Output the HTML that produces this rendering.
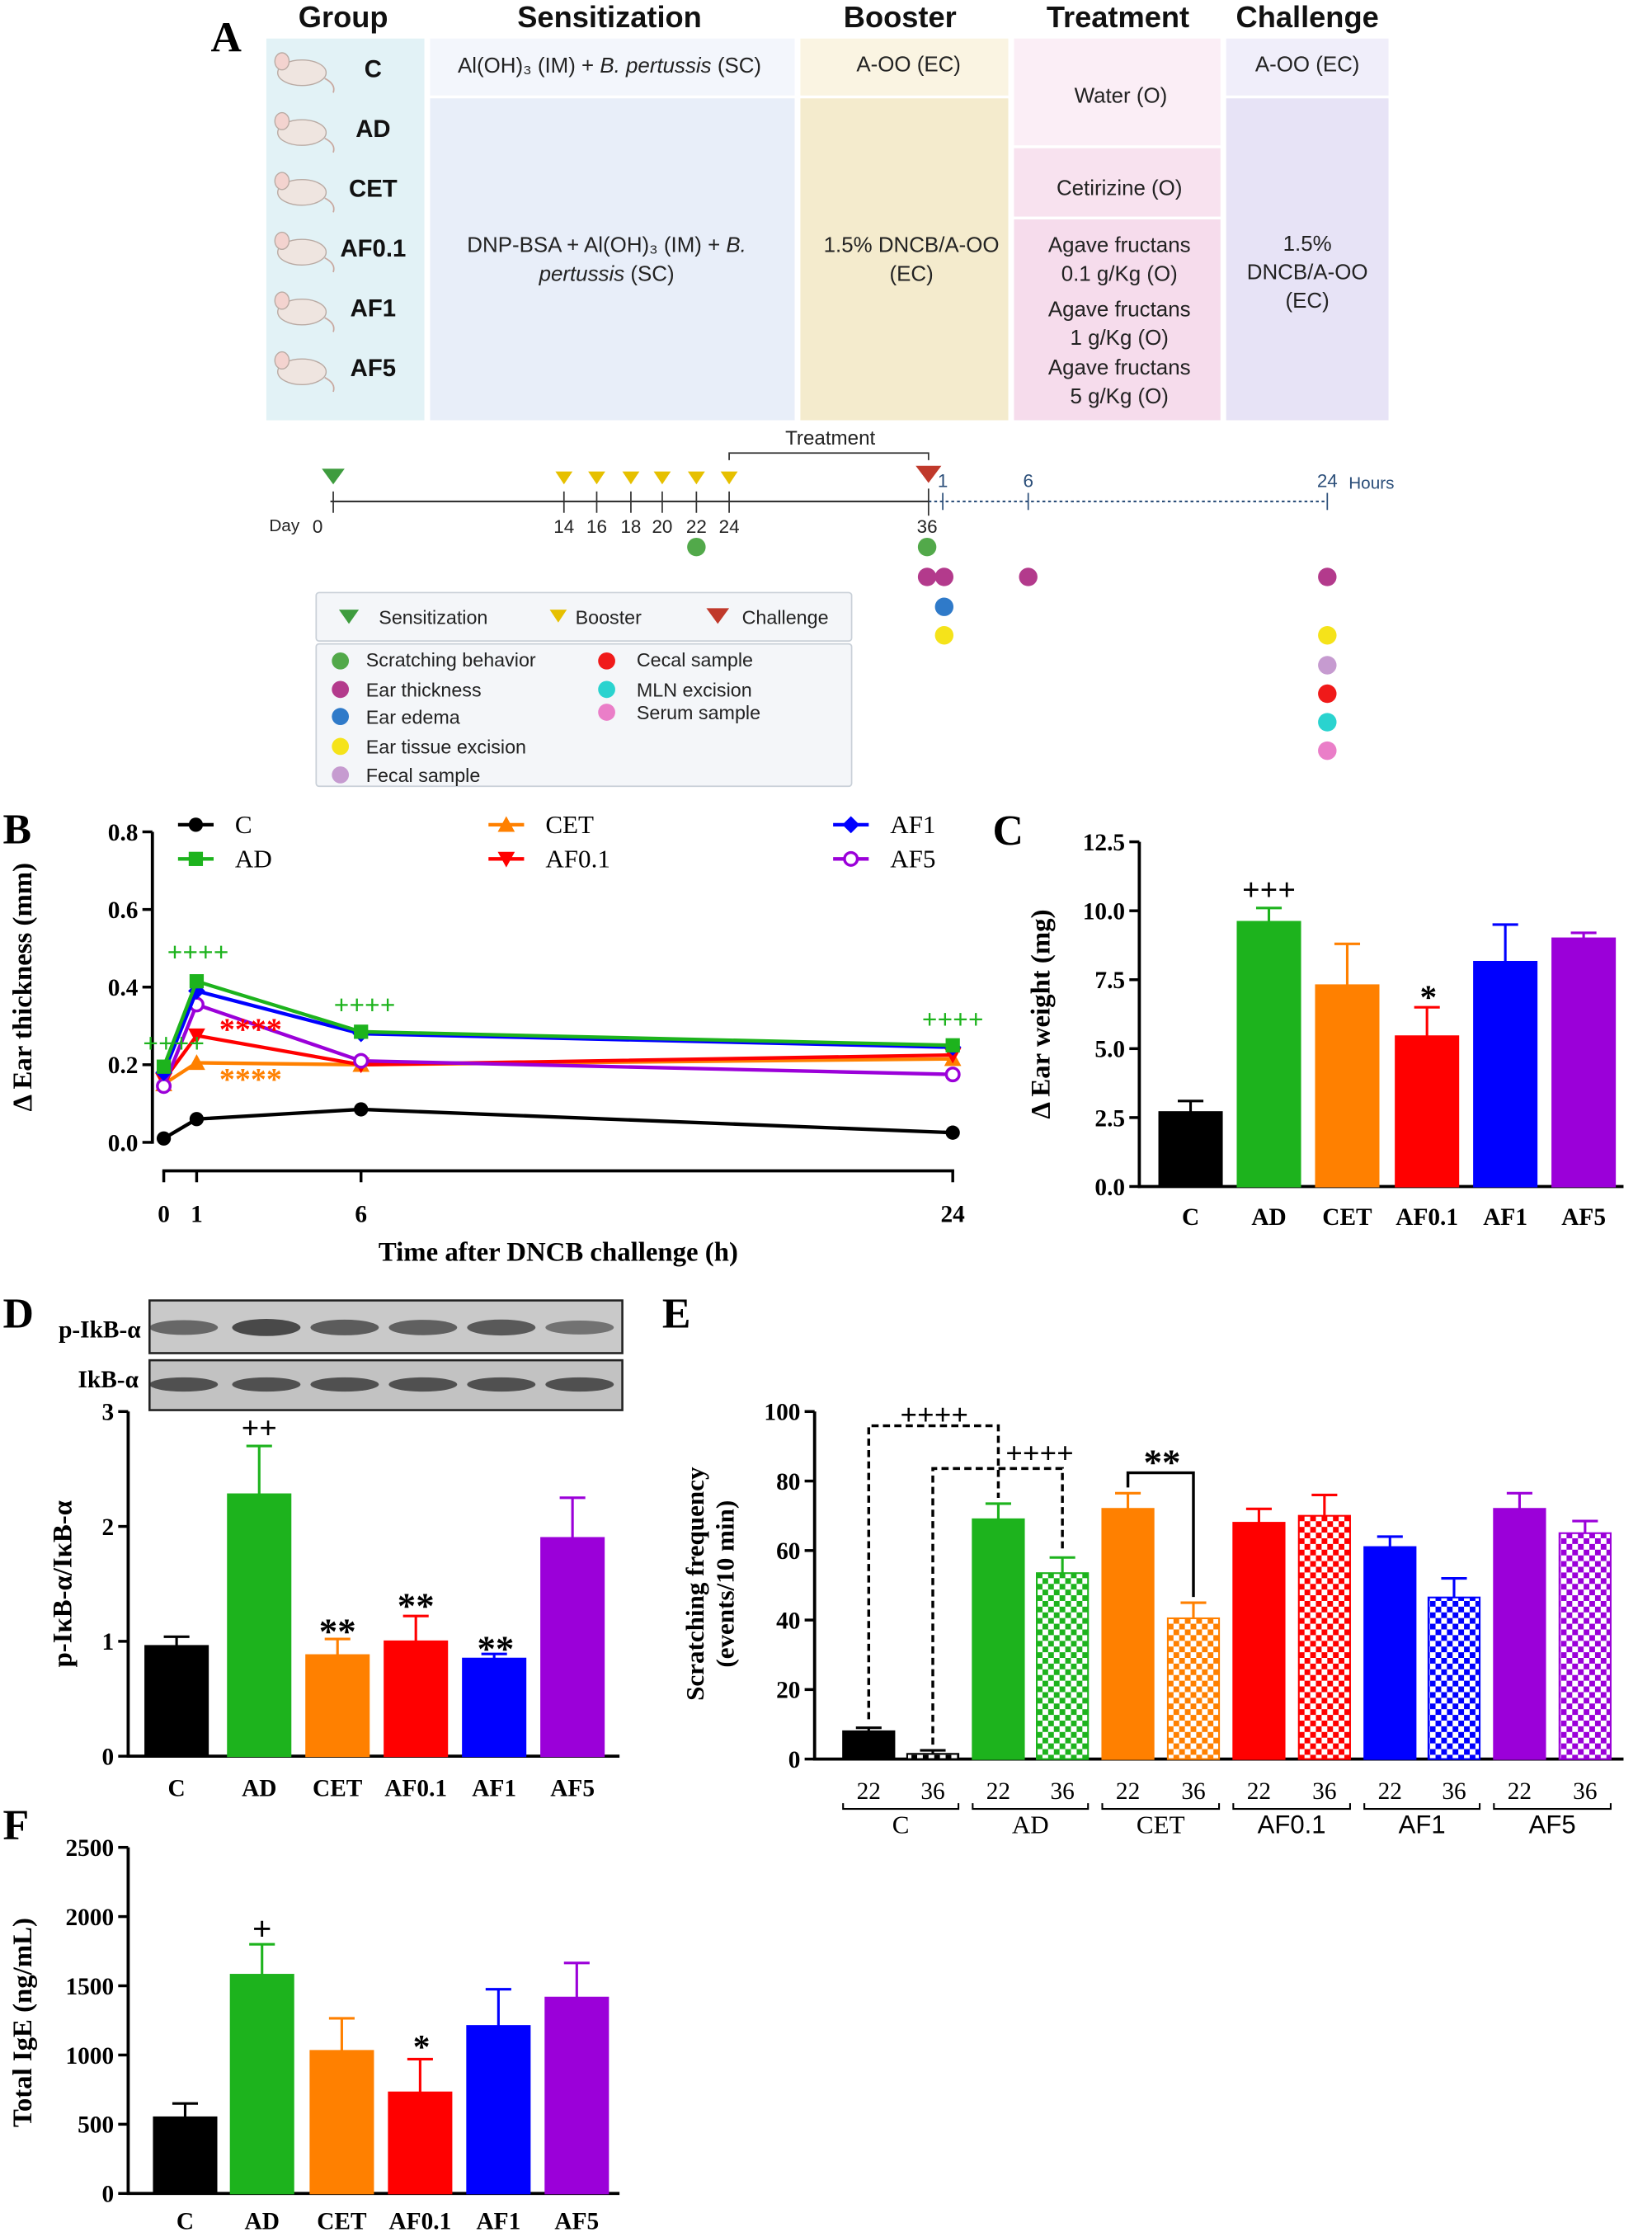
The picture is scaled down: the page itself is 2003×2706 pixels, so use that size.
<!DOCTYPE html>
<html><head><meta charset="utf-8">
<style>
html,body{margin:0;padding:0;background:#fff;}
svg{display:block;}
.sans{font-family:"Liberation Sans","DejaVu Sans",sans-serif;}
.serif{font-family:"Liberation Serif","DejaVu Serif",serif;font-weight:bold;}
</style></head>
<body>
<svg id="fig" width="2003" height="2706" viewBox="0 0 1160 1567" xmlns="http://www.w3.org/2000/svg">
<defs>
<pattern id="chk-green" width="8" height="8" patternUnits="userSpaceOnUse"><rect width="8" height="8" fill="#fff"/><rect width="4" height="4" fill="#1db31d"/><rect x="4" y="4" width="4" height="4" fill="#1db31d"/></pattern>
<pattern id="chk-black" width="8" height="8" patternUnits="userSpaceOnUse"><rect width="8" height="8" fill="#fff"/><rect width="4" height="4" fill="#000"/><rect x="4" y="4" width="4" height="4" fill="#000"/></pattern>
<pattern id="chk-orange" width="8" height="8" patternUnits="userSpaceOnUse"><rect width="8" height="8" fill="#fff"/><rect width="4" height="4" fill="#ff8000"/><rect x="4" y="4" width="4" height="4" fill="#ff8000"/></pattern>
<pattern id="chk-red" width="8" height="8" patternUnits="userSpaceOnUse"><rect width="8" height="8" fill="#fff"/><rect width="4" height="4" fill="#ff0000"/><rect x="4" y="4" width="4" height="4" fill="#ff0000"/></pattern>
<pattern id="chk-blue" width="8" height="8" patternUnits="userSpaceOnUse"><rect width="8" height="8" fill="#fff"/><rect width="4" height="4" fill="#0000ff"/><rect x="4" y="4" width="4" height="4" fill="#0000ff"/></pattern>
<pattern id="chk-purple" width="8" height="8" patternUnits="userSpaceOnUse"><rect width="8" height="8" fill="#fff"/><rect width="4" height="4" fill="#9b00d9"/><rect x="4" y="4" width="4" height="4" fill="#9b00d9"/></pattern>
</defs>

<!-- PANEL A -->
<g class="sans">
<text x="148" y="36" class="serif" font-size="30">A</text>
<rect x="187" y="27" width="111" height="268" fill="#e2f2f6"/>
<rect x="302" y="27" width="256" height="40" fill="#f3f6fc"/>
<rect x="302" y="69" width="256" height="226" fill="#e8eef9"/>
<rect x="562" y="27" width="146" height="40" fill="#faf4e2"/>
<rect x="562" y="69" width="146" height="226" fill="#f4ebcd"/>
<rect x="712" y="27" width="145" height="75" fill="#fbeef6"/>
<rect x="712" y="104" width="145" height="48" fill="#f8e2ef"/>
<rect x="712" y="154" width="145" height="141" fill="#f6dcec"/>
<rect x="861" y="27" width="114" height="40" fill="#f0eefa"/>
<rect x="861" y="69" width="114" height="226" fill="#e7e3f6"/>
<g font-size="21" font-weight="bold" text-anchor="middle" fill="#111">
<text x="241" y="19">Group</text>
<text x="428" y="19">Sensitization</text>
<text x="632" y="19">Booster</text>
<text x="785" y="19">Treatment</text>
<text x="918" y="19">Challenge</text>
</g>
<g id="mice"></g>
<g font-size="15" fill="#222" text-anchor="middle">
<text x="428" y="51">Al(OH)₃ (IM) + <tspan font-style="italic">B. pertussis</tspan> (SC)</text>
<text x="426" y="177">DNP-BSA + Al(OH)₃ (IM) + <tspan font-style="italic">B.</tspan></text>
<text x="426" y="197" font-style="italic">pertussis <tspan font-style="normal">(SC)</tspan></text>
<text x="638" y="50">A-OO (EC)</text>
<text x="640" y="177">1.5% DNCB/A-OO</text>
<text x="640" y="197">(EC)</text>
<text x="787" y="72">Water (O)</text>
<text x="786" y="137">Cetirizine (O)</text>
<text x="786" y="177">Agave fructans</text>
<text x="786" y="197">0.1 g/Kg (O)</text>
<text x="786" y="222">Agave fructans</text>
<text x="786" y="242">1 g/Kg (O)</text>
<text x="786" y="263">Agave fructans</text>
<text x="786" y="283">5 g/Kg (O)</text>
<text x="918" y="50">A-OO (EC)</text>
<text x="918" y="176">1.5%</text>
<text x="918" y="196">DNCB/A-OO</text>
<text x="918" y="216">(EC)</text>
</g>
<!-- timeline -->
<line x1="232" y1="352" x2="652" y2="352" stroke="#333" stroke-width="1.2"/>
<line x1="652" y1="352" x2="932" y2="352" stroke="#2c4f7a" stroke-width="1.2" stroke-dasharray="2,2"/>
<path d="M512 323 V318 H652 V323" fill="none" stroke="#333"/>
<text x="583" y="312" font-size="14" text-anchor="middle" fill="#222">Treatment</text>
<g id="timeline"></g>
<!-- legends -->
<rect x="222" y="416" width="376" height="34" fill="#f4f6f9" stroke="#c9d0d8" rx="2"/>
<rect x="222" y="452" width="376" height="100" fill="#f4f6f9" stroke="#c9d0d8" rx="2"/>
<g font-size="13.5" fill="#222">
<path d="M238 428 h14 l-7 10 z" fill="#3e9c3e"/><text x="266" y="438">Sensitization</text>
<path d="M386 428 h12 l-6 9 z" fill="#e6c000"/><text x="404" y="438">Booster</text>
<path d="M496 427 h16 l-8 11 z" fill="#c0392b"/><text x="521" y="438">Challenge</text>
<circle cx="239" cy="464" r="6" fill="#52a94a"/><text x="257" y="468">Scratching behavior</text>
<circle cx="239" cy="484" r="6" fill="#b33a8c"/><text x="257" y="489">Ear thickness</text>
<circle cx="239" cy="503" r="6" fill="#2f7ac9"/><text x="257" y="508">Ear edema</text>
<circle cx="239" cy="524" r="6" fill="#f5e31a"/><text x="257" y="529">Ear tissue excision</text>
<circle cx="239" cy="544" r="6" fill="#c69bd0"/><text x="257" y="549">Fecal sample</text>
<circle cx="426" cy="464" r="6" fill="#f01a1a"/><text x="447" y="468">Cecal sample</text>
<circle cx="426" cy="484" r="6" fill="#2ad3cf"/><text x="447" y="489">MLN excision</text>
<circle cx="426" cy="500" r="6" fill="#ea7ec8"/><text x="447" y="505">Serum sample</text>
</g>
</g>

<g class="serif" font-size="30">
<text x="2" y="592">B</text>
<text x="697" y="593">C</text>
<text x="2" y="932">D</text>
<text x="465" y="932">E</text>
<text x="2" y="1291">F</text>
</g>
<g id="panelB"></g>
<g id="panelC"></g>
<g id="panelD"></g>
<g id="panelE"></g>
<g id="panelF"></g>
</svg>

<script>
// ---------- data ----------
const bTimes = [0, 1, 6, 24];
const bTickLabels = ["0.0", "0.2", "0.4", "0.6", "0.8"];
const bC = [0.01, 0.06, 0.085, 0.025];
const bAD = [0.195, 0.415, 0.285, 0.25];
const bCET = [0.15, 0.205, 0.2, 0.215];
const bAF01 = [0.16, 0.275, 0.2, 0.225];
const bAF1 = [0.18, 0.39, 0.28, 0.245];
const bAF5 = [0.145, 0.355, 0.21, 0.175];

const groups = ["C", "AD", "CET", "AF0.1", "AF1", "AF5"];
const cValues = [2.7, 9.6, 7.3, 5.45, 8.15, 9.0];
const cErrTop = [3.1, 10.1, 8.8, 6.5, 9.5, 9.2];
const cTickLabels = ["0.0", "2.5", "5.0", "7.5", "10.0", "12.5"];

const dValues = [0.96, 2.28, 0.88, 1.0, 0.85, 1.9];
const dErrTop = [1.04, 2.7, 1.02, 1.22, 0.89, 2.25];
const dTickLabels = ["0", "1", "2", "3"];

const eDays = ["22", "36"];
const eDay22 = [8, 69, 72, 68, 61, 72];
const eDay36 = [1.5, 53.5, 40.5, 70, 46.5, 65];
const eErr22 = [9, 73.5, 76.5, 72, 64, 76.5];
const eErr36 = [2.5, 58, 45, 76, 52, 68.5];
const eTickLabels = ["0", "20", "40", "60", "80", "100"];

const fValues = [550, 1580, 1030, 730, 1210, 1415];
const fErrTop = [650, 1800, 1265, 970, 1475, 1665];
const fTickLabels = ["0", "500", "1000", "1500", "2000", "2500"];

const colors = ["#000000", "#1db31d", "#ff8000", "#ff0000", "#0000ff", "#9b00d9"];
const chk = ["chk-black","chk-green","chk-orange","chk-red","chk-blue","chk-purple"];

const NS = "http://www.w3.org/2000/svg";
function mk(tag, attrs, parent, text) {
  const e = document.createElementNS(NS, tag);
  for (const k in attrs) e.setAttribute(k, attrs[k]);
  if (text !== undefined) e.textContent = text;
  parent.appendChild(e);
  return e;
}
function lin(d0, d1, r0, r1) { return v => r0 + (v - d0) * (r1 - r0) / (d1 - d0); }

// ---------- mice ----------
(function () {
  const g = document.getElementById('mice');
  const rows = [47, 89, 131, 173, 215, 257];
  rows.forEach((y, i) => {
    const m = mk('g', {}, g);
    
    
    mk('ellipse', {cx: 212, cy: y + 4, rx: 17, ry: 9, fill: '#efe5e0', stroke: '#b9aaa3', 'stroke-width': 0.8}, m);
    mk('ellipse', {cx: 198, cy: y - 4, rx: 5, ry: 6, fill: '#f3d3cf', stroke: '#b9aaa3', 'stroke-width': 0.8}, m);
    mk('path', {d: `M228 ${y+8} q8 4 6 10`, fill: 'none', stroke: '#c9a9a0', 'stroke-width': 1}, m);
    const t = mk('text', {x: 262, y: y + 7, 'font-size': 17, 'font-weight': 'bold', 'text-anchor': 'middle', fill: '#111'}, g, groups[i]);
    
    
  });
})();

// ---------- timeline ----------
(function () {
  const g = document.getElementById('timeline');
  const yel = [396, 419, 443, 465, 489, 512];
  const dayLabels = ["14", "16", "18", "20", "22", "24"];
  let t = mk('path', {d: 'M226 329 h16 l-8 11 z', fill: '#3e9c3e'}, g);
   
  mk('line', {x1: 234, y1: 345, x2: 234, y2: 360, stroke: '#333'}, g);
  yel.forEach((x, i) => {
    const p = mk('path', {d: `M${x-6} 331 h12 l-6 9 z`, fill: '#e6c000'}, g);
     
    mk('line', {x1: x, y1: 345, x2: x, y2: 360, stroke: '#333'}, g);
    mk('text', {x: x, y: 374, 'font-size': 13, 'text-anchor': 'middle', fill: '#222'}, g, dayLabels[i]);
  });
  t = mk('path', {d: 'M643 327 h18 l-9 12 z', fill: '#c0392b'}, g);
   
  mk('line', {x1: 652, y1: 343, x2: 652, y2: 362, stroke: '#333'}, g);
  mk('text', {x: 189, y: 373, 'font-size': 12, fill: '#222'}, g, 'Day');
  mk('text', {x: 223, y: 374, 'font-size': 13, 'text-anchor': 'middle', fill: '#222'}, g, '0');
  mk('text', {x: 651, y: 374, 'font-size': 13, 'text-anchor': 'middle', fill: '#222'}, g, '36');
  [[662, '1'], [722, '6'], [932, '24']].forEach(([x, l]) => {
    mk('line', {x1: x, y1: 346, x2: x, y2: 358, stroke: '#2c4f7a'}, g);
    mk('text', {x: x, y: 342, 'font-size': 13, 'text-anchor': 'middle', fill: '#2c4f7a'}, g, l);
  });
  mk('text', {x: 947, y: 343, 'font-size': 12, fill: '#2c4f7a'}, g, 'Hours');
  const dots = [[489,384,'#52a94a'],[651,384,'#52a94a'],[651,405,'#b33a8c'],[663,405,'#b33a8c'],[722,405,'#b33a8c'],[932,405,'#b33a8c'],[663,426,'#2f7ac9'],[663,446,'#f5e31a'],[932,446,'#f5e31a'],[932,467,'#c69bd0'],[932,487,'#f01a1a'],[932,507,'#2ad3cf'],[932,527,'#ea7ec8']];
  dots.forEach(([x, y, c]) => {
    const d = mk('circle', {cx: x, cy: y, r: 6.5, fill: c}, g);
     
  });
})();

// ---------- generic axis ----------
function yAxis(g, x, y0, y1, labels, fs) {
  const ax = mk('line', {x1: x, y1: y0 + 1, x2: x, y2: y1, stroke: '#000', 'stroke-width': 2.2}, g);
   
  labels.forEach((l, i) => {
    const y = y0 + (y1 - y0) * i / (labels.length - 1);
    mk('line', {x1: x - 7, y1: y, x2: x, y2: y, stroke: '#000', 'stroke-width': 2}, g);
    const t = mk('text', {x: x - 10, y: y + 6, 'font-size': fs || 17, 'text-anchor': 'end', class: 'serif'}, g, l);
     
  });
}
function yTitle(g, x, y, lines, fs) {
  const t = mk('text', {transform: `translate(${x},${y}) rotate(-90)`, 'font-size': fs || 18, 'text-anchor': 'middle', class: 'serif'}, g);
   
  lines.forEach((l, i) => mk('tspan', {x: 0, dy: i === 0 ? 0 : 21}, t, l));
}
function txt(g, x, y, s, fs, fill, name) {
  const t = mk('text', {x: x, y: y, 'font-size': fs, 'text-anchor': 'middle', class: 'serif', fill: fill || '#000'}, g, s);
   
  return t;
}

// ---------- Panel B ----------
(function () {
  const g = document.getElementById('panelB');
  const X = lin(0, 24, 115, 669), Y = lin(0, 0.8, 802, 584);
  yAxis(g, 107, 802, 584, bTickLabels);
  yTitle(g, 22, 693, ["Δ Ear thickness (mm)"], 19);
  const xa = mk('line', {x1: 114, y1: 822, x2: 670, y2: 822, stroke: '#000', 'stroke-width': 2.2}, g);
   
  bTimes.forEach(t => {
    mk('line', {x1: X(t), y1: 822, x2: X(t), y2: 830, stroke: '#000', 'stroke-width': 2}, g);
    txt(g, X(t), 858, String(t), 17, '#000', 'x-tick-label');
  });
  txt(g, 392, 885, 'Time after DNCB challenge (h)', 19, '#000', 'x-axis-title');
  const series = [["C", bC, 0, 'circle'], ["CET", bCET, 2, 'tri'], ["AF0.1", bAF01, 3, 'tridown'], ["AF5", bAF5, 5, 'open'], ["AF1", bAF1, 4, 'diamond'], ["AD", bAD, 1, 'square']];
  function marker(p, x, y, type, c) {
    if (type === 'circle') mk('circle', {cx: x, cy: y, r: 5, fill: c}, p);
    else if (type === 'open') mk('circle', {cx: x, cy: y, r: 4.5, fill: '#fff', stroke: c, 'stroke-width': 2}, p);
    else if (type === 'square') mk('rect', {x: x - 5, y: y - 5, width: 10, height: 10, fill: c}, p);
    else if (type === 'tri') mk('path', {d: `M${x} ${y-6} L${x+6} ${y+5} L${x-6} ${y+5}z`, fill: c}, p);
    else if (type === 'tridown') mk('path', {d: `M${x} ${y+6} L${x+6} ${y-5} L${x-6} ${y-5}z`, fill: c}, p);
    else mk('path', {d: `M${x} ${y-6} L${x+6} ${y} L${x} ${y+6} L${x-6} ${y}z`, fill: c}, p);
  }
  series.forEach(([name, vals, ci, type]) => {
    const c = colors[ci];
    const s = mk('g', {}, g);
    
    
    mk('polyline', {points: vals.map((v, i) => X(bTimes[i]) + ',' + Y(v)).join(' '), fill: 'none', stroke: c, 'stroke-width': 2.5}, s);
    vals.forEach((v, i) => marker(s, X(bTimes[i]), Y(v), type, c));
  });
  // legend
  const leg = [["C", 0, 'circle', 125, 579], ["AD", 1, 'square', 125, 603], ["CET", 2, 'tri', 343, 579], ["AF0.1", 3, 'tridown', 343, 603], ["AF1", 4, 'diamond', 585, 579], ["AF5", 5, 'open', 585, 603]];
  leg.forEach(([n, ci, type, x, y]) => {
    const lg = mk('g', {}, g);
    
    
    mk('line', {x1: x, y1: y, x2: x + 25, y2: y, stroke: colors[ci], 'stroke-width': 2.5}, lg);
    marker(lg, x + 12.5, y, type, colors[ci]);
    const t = mk('text', {x: x + 40, y: y + 6, 'font-size': 18, class: 'serif', 'font-weight': 'normal'}, lg, n);
    t.style.fontWeight = 'normal';
  });
  txt(g, 122, 739, '++++', 19, '#1db31d');
  txt(g, 139, 675, '++++', 19, '#1db31d');
  txt(g, 256, 712, '++++', 19, '#1db31d');
  txt(g, 669, 722, '++++', 19, '#1db31d');
  txt(g, 176, 730, '****', 22, '#ff0000');
  txt(g, 176, 765, '****', 22, '#ff8000');
})();

// ---------- bar helper ----------
function bars(g, centers, vals, errs, Y, w, fills, base) {
  vals.forEach((v, i) => {
    const b = mk('g', {}, g);
    
    
    const c = colors[i % 6];
    mk('line', {x1: centers[i], y1: Y(v), x2: centers[i], y2: Y(errs[i]), stroke: c, 'stroke-width': 1.8}, b);
    mk('line', {x1: centers[i] - 9, y1: Y(errs[i]), x2: centers[i] + 9, y2: Y(errs[i]), stroke: c, 'stroke-width': 1.8}, b);
    mk('rect', {x: centers[i] - w / 2, y: Y(v), width: w, height: base - Y(v), fill: fills[i], stroke: c, 'stroke-width': 1.2}, b);
  });
}
function xLabels(g, centers, y, fs) {
  centers.forEach((x, i) => txt(g, x, y, groups[i], fs || 17, '#000', 'x-tick-label'));
}

// ---------- Panel C ----------
(function () {
  const g = document.getElementById('panelC');
  const Y = lin(0, 12.5, 833, 591);
  const cx = [836, 891, 946, 1002, 1057, 1112];
  yAxis(g, 800, 833, 591, cTickLabels);
  yTitle(g, 737, 712, ["Δ Ear weight (mg)"], 19);
  mk('line', {x1: 799, y1: 833, x2: 1140, y2: 833, stroke: '#000', 'stroke-width': 2.2}, g);
  bars(g, cx, cValues, cErrTop, Y, 44, colors, 833);
  xLabels(g, cx, 860);
  txt(g, 891, 632, '+++', 22, '#000');
  txt(g, 1003, 708, '*', 24, '#000');
})();

// ---------- Panel D ----------
(function () {
  const g = document.getElementById('panelD');
  const Y = lin(0, 3, 1233, 991);
  const cx = [124, 182, 237, 292, 347, 402];
  const b1 = mk('rect', {x: 105, y: 913, width: 332, height: 37, fill: '#c9c9c9', stroke: '#222', 'stroke-width': 1.5}, g);
   
  const b2 = mk('rect', {x: 105, y: 955, width: 332, height: 35, fill: '#c2c2c2', stroke: '#222', 'stroke-width': 1.5}, g);
   
  const bandA = [0.6, 1, 0.75, 0.7, 0.8, 0.45];
  cx.forEach((x, i) => {
    mk('ellipse', {cx: x + 5, cy: 932, rx: 24, ry: 4 + 2 * bandA[i], fill: '#333', opacity: 0.35 + 0.5 * bandA[i]}, g);
    mk('ellipse', {cx: x + 5, cy: 972, rx: 24, ry: 5, fill: '#2a2a2a', opacity: 0.75}, g);
  });
  txt(g, 70, 939, 'p-IkB-α', 17, '#000', 'blot-label-p');
  txt(g, 76, 974, 'IkB-α', 17, '#000', 'blot-label');
  yAxis(g, 90, 1233, 991, dTickLabels);
  yTitle(g, 50, 1112, ["p-IκB-α/IκB-α"], 19);
  mk('line', {x1: 89, y1: 1233, x2: 435, y2: 1233, stroke: '#000', 'stroke-width': 2.2}, g);
  bars(g, cx, dValues, dErrTop, Y, 44, colors, 1233);
  xLabels(g, cx, 1261);
  txt(g, 182, 1010, '++', 22, '#000');
  txt(g, 237, 1154, '**', 26, '#000');
  txt(g, 292, 1136, '**', 26, '#000');
  txt(g, 348, 1166, '**', 26, '#000');
})();

// ---------- Panel E ----------
(function () {
  const g = document.getElementById('panelE');
  const Y = lin(0, 100, 1235, 991);
  const c22 = [610, 701, 792, 884, 976, 1067];
  const c36 = [655, 746, 838, 930, 1021, 1113];
  yAxis(g, 572, 1235, 991, eTickLabels);
  yTitle(g, 494, 1112, ["Scratching frequency", "(events/10 min)"], 18);
  mk('line', {x1: 571, y1: 1235, x2: 1140, y2: 1235, stroke: '#000', 'stroke-width': 2.2}, g);
  bars(g, c22, eDay22, eErr22, Y, 36, colors, 1235);
  bars(g, c36, eDay36, eErr36, Y, 36, chk.map(p => `url(#${p})`), 1235);
  c22.forEach((x, i) => {
    txt(g, x, 1263, eDays[0], 17, '#000', 'x-tick-label').style.fontWeight = 'normal';
    txt(g, c36[i], 1263, eDays[1], 17, '#000', 'x-tick-label').style.fontWeight = 'normal';
    const br = mk('path', {d: `M${x - 18} 1266 v4 H${c36[i] + 18} v-4`, fill: 'none', stroke: '#000', 'stroke-width': 1.2}, g);
     
    const gl = txt(g, (x + c36[i]) / 2, 1287, groups[i], 18, '#000', 'group-label');
    gl.style.fontWeight = 'normal';
    if (i >= 3) gl.setAttribute('class', 'sans');
  });
  mk('path', {d: `M${c22[0]} ${Y(eErr22[0]) - 6} V1001 H${c22[1]} V${Y(eErr22[1]) - 4}`, fill: 'none', stroke: '#000', 'stroke-width': 2, 'stroke-dasharray': '5,3'}, g);
  mk('path', {d: `M${c36[0]} ${Y(eErr36[0]) - 4} V1031 H${c36[1]} V${Y(eErr36[1]) - 4}`, fill: 'none', stroke: '#000', 'stroke-width': 2, 'stroke-dasharray': '5,3'}, g);
  mk('path', {d: `M${c22[2]} ${Y(eErr22[2]) - 4} V1034 H${c36[2]} V${Y(eErr36[2]) - 4}`, fill: 'none', stroke: '#000', 'stroke-width': 2}, g);
  txt(g, 656, 1000, '++++', 21, '#000');
  txt(g, 730, 1027, '++++', 21, '#000');
  txt(g, 816, 1035, '**', 26, '#000');
})();

// ---------- Panel F ----------
(function () {
  const g = document.getElementById('panelF');
  const Y = lin(0, 2500, 1540, 1297);
  const cx = [130, 184, 240, 295, 350, 405];
  yAxis(g, 90, 1540, 1297, fTickLabels);
  yTitle(g, 22, 1420, ["Total IgE (ng/mL)"], 19);
  mk('line', {x1: 89, y1: 1540, x2: 435, y2: 1540, stroke: '#000', 'stroke-width': 2.2}, g);
  bars(g, cx, fValues, fErrTop, Y, 44, colors, 1540);
  xLabels(g, cx, 1565);
  txt(g, 184, 1362, '+', 24, '#000');
  txt(g, 296, 1445, '*', 24, '#000');
})();
</script>
</body></html>
